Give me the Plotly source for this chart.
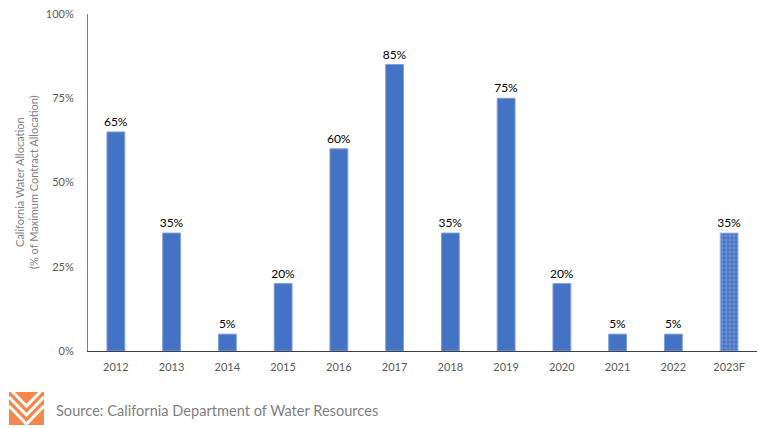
import plotly.graph_objects as go

years = ["2012", "2013", "2014", "2015", "2016", "2017", "2018", "2019", "2020", "2021", "2022", "2023F"]
allocation = [65, 35, 5, 20, 60, 85, 35, 75, 20, 5, 5, 35]
forecast = [False] * 11 + [True]
y_ticks = [0, 25, 50, 75, 100]
y_tick_text = ["0%", "25%", "50%", "75%", "100%"]

W, H = 759, 428
L, R, T, B = 88, 2, 14, 77


def px(x):
    return (x - L) / (W - L - R)


def py(y):
    return (H - B - y) / (H - T - B)


blue = "#4472C4"
fig = go.Figure()
fig.add_trace(go.Bar(
    x=years,
    y=allocation,
    text=[f"{v}%" for v in allocation],
    textposition="outside",
    constraintext="none",
    textfont=dict(family="Lato", size=12, color="#000000"),
    cliponaxis=False,
    marker=dict(
        color=blue,
        line=dict(color=["#9db5e3" if f else "#7f9fd8" for f in forecast], width=1),
        pattern=dict(
            shape=["+" if f else "" for f in forecast],
            fgcolor="#c9d7f2",
            bgcolor=blue,
            size=4,
            solidity=0.3,
        ),
    ),
    hoverinfo="skip",
))

# logo: orange square with white chevrons
shapes = [dict(type="rect", xref="paper", yref="paper",
               x0=px(9), x1=px(44), y0=py(425), y1=py(392),
               fillcolor="#F4874B", line_width=0, layer="above")]
for off in [5, 14, 23]:
    path = (f"M {px(9)},{py(392 + off - 9)} L {px(26.5)},{py(392 + off + 9)} "
            f"L {px(44)},{py(392 + off - 9)}")
    shapes.append(dict(type="path", xref="paper", yref="paper", path=path,
                       line=dict(color="white", width=3), layer="above"))
# trim the chevron strokes back to the square
for x0, x1, y0, y1 in [(0, 9, 428, 384), (44, 53, 428, 384), (0, 53, 392, 384)]:
    shapes.append(dict(type="rect", xref="paper", yref="paper",
                       x0=px(x0), x1=px(x1), y0=py(y0), y1=py(y1),
                       fillcolor="white", line_width=0, layer="above"))

fig.update_layout(
    width=W, height=H,
    margin=dict(l=L, r=R, t=T, b=B, autoexpand=False),
    paper_bgcolor="white", plot_bgcolor="white",
    showlegend=False,
    bargap=0.68,
    font=dict(family="Lato", color="#595959"),
    xaxis=dict(
        showline=True, linecolor="#404040", linewidth=1,
        showgrid=False, ticks="", tickfont=dict(size=11, color="#595959"),
        ticklabelstandoff=6, automargin=False,
    ),
    yaxis=dict(
        range=[0, 100], tickvals=y_ticks, ticktext=y_tick_text,
        showline=True, linecolor="#7f7f7f", linewidth=1,
        showgrid=False, zeroline=False, ticks="",
        tickfont=dict(size=11, color="#595959"),
        ticklabelstandoff=11, automargin=False,
    ),
    shapes=shapes,
    annotations=[
        dict(
            text="California Water Allocation<br>(% of Maximum Contract Allocation)",
            xref="paper", yref="paper", x=px(26), y=py(182),
            xanchor="center", yanchor="middle", textangle=-90, showarrow=False,
            font=dict(family="Lato", size=11, color="#7f7f7f"),
        ),
        dict(
            text="Source: California Department of Water Resources",
            xref="paper", yref="paper", x=px(54), y=py(410),
            xanchor="left", yanchor="middle", showarrow=False,
            font=dict(family="Lato", size=14.6, color="#7f7f7f"),
        ),
    ],
)

fig.write_html("out.html", config={"displayModeBar": False},
               post_script="document.body.style.margin='0px';")
